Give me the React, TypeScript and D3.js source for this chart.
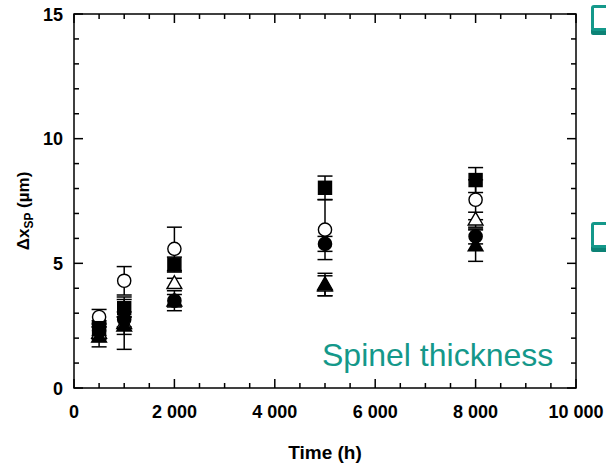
import React from "react";
import * as d3 from "d3";

const times = [500, 1000, 2000, 5000, 8000];
const openCircle = [2.85, 4.3, 5.58, 6.35, 7.55];
const openCircleErr = [0.3, 0.57, 0.87, 1.2, 0.8];
const openTriangle = [2.2, 2.6, 4.2, 4.1, 6.75];
const openTriangleErr = [0.25, 1.05, 0.2, 0.4, 0.3];
const filledSquare = [2.4, 3.2, 4.95, 8.03, 8.34];
const filledSquareErr = [0.3, 0.35, 0.3, 0.47, 0.5];
const filledCircle = [2.3, 2.75, 3.5, 5.78, 6.08];
const filledCircleErr = [0.3, 0.3, 0.4, 0.3, 0.3];
const filledTriangle = [2.05, 2.5, 3.5, 4.15, 5.71];
const filledTriangleErr = [0.4, 0.35, 0.25, 0.45, 0.63];

const xTicks = [0, 2000, 4000, 6000, 8000, 10000];
const xTickLabels = ["0", "2 000", "4 000", "6 000", "8 000", "10 000"];
const yTicks = [0, 5, 10, 15];

const series = [
  { name: "openCircle", values: openCircle, err: openCircleErr, shape: "circle", filled: false },
  { name: "openTriangle", values: openTriangle, err: openTriangleErr, shape: "triangle", filled: false },
  { name: "filledSquare", values: filledSquare, err: filledSquareErr, shape: "square", filled: true },
  { name: "filledCircle", values: filledCircle, err: filledCircleErr, shape: "circle", filled: true },
  { name: "filledTriangle", values: filledTriangle, err: filledTriangleErr, shape: "triangle", filled: true },
];

const TEAL = "#14988a";
const TEAL_DARK = "#0c8275";
const FONT = "Liberation Sans, Arial, sans-serif";

export default function App() {
  const W = 606, H = 466;
  const x = d3.scaleLinear().domain([0, 10000]).range([74, 576]);
  const y = d3.scaleLinear().domain([0, 15]).range([388, 14]);
  const xMinor = d3.range(0, 10001, 500);
  const yMinor = d3.range(0, 15.01, 1);

  const marker = (shape: string, filled: boolean, cx: number, cy: number, key: string) => {
    const fill = filled ? "#000" : "#fff";
    const sw = 1.4;
    if (shape === "circle") return <circle key={key} cx={cx} cy={cy} r={6.6} fill={fill} stroke="#000" strokeWidth={sw} />;
    if (shape === "square") return <rect key={key} x={cx - 6.5} y={cy - 6.5} width={13} height={13} fill={fill} stroke="#000" strokeWidth={sw} />;
    const sym = d3.symbol().type(d3.symbolTriangle).size(95)();
    return <path key={key} d={sym || ""} transform={`translate(${cx},${cy + 1})`} fill={fill} stroke="#000" strokeWidth={sw} />;
  };

  return (
    <svg width={W} height={H} style={{ position: "absolute", left: 0, top: 0, background: "#fff" }}>
      <rect x={0} y={0} width={W} height={H} fill="#fff" />
      {/* teal checkbox icons */}
      {[5, 222].map((ty, i) => (
        <g key={"cb" + i}>
          <rect x={591} y={ty + 23} width={40} height={7} rx={2} fill={TEAL_DARK} />
          <rect x={592.5} y={ty + 1.5} width={40} height={23} rx={1.5} fill="#fff" stroke={TEAL} strokeWidth={3} />
        </g>
      ))}
      {/* frame */}
      <rect x={x(0)} y={y(15)} width={x(10000) - x(0)} height={y(0) - y(15)} fill="none" stroke="#000" strokeWidth={1.5} />
      {xMinor.map((v) => {
        const major = v % 2000 === 0;
        const len = major ? 9 : 5;
        return (
          <g key={"xt" + v}>
            <line x1={x(v)} x2={x(v)} y1={y(0)} y2={y(0) - len} stroke="#000" strokeWidth={1.5} />
            <line x1={x(v)} x2={x(v)} y1={y(15)} y2={y(15) + len} stroke="#000" strokeWidth={1.5} />
          </g>
        );
      })}
      {yMinor.map((v) => {
        const major = v % 5 === 0;
        const len = major ? 9 : 5;
        return (
          <g key={"yt" + v}>
            <line x1={x(0)} x2={x(0) + len} y1={y(v)} y2={y(v)} stroke="#000" strokeWidth={1.5} />
            <line x1={x(10000)} x2={x(10000) - len} y1={y(v)} y2={y(v)} stroke="#000" strokeWidth={1.5} />
          </g>
        );
      })}
      {xTicks.map((v, i) => (
        <text key={"xl" + v} x={x(v)} y={418} textAnchor="middle" fontFamily={FONT} fontWeight="bold" fontSize={18}>
          {xTickLabels[i]}
        </text>
      ))}
      {yTicks.map((v) => (
        <text key={"yl" + v} x={63} y={y(v) + 6.5} textAnchor="end" fontFamily={FONT} fontWeight="bold" fontSize={18}>
          {v}
        </text>
      ))}
      <text x={x(5000)} y={459} textAnchor="middle" fontFamily={FONT} fontWeight="bold" fontSize={19}>
        Time (h)
      </text>
      <text transform={`translate(29,${y(7.1)}) rotate(-90)`} textAnchor="middle" fontFamily={FONT} fontWeight="bold" fontSize={17}>
        Δx<tspan fontSize={12} dy={4}>SP</tspan><tspan dy={-4}> (µm)</tspan>
      </text>
      {series.map((s) =>
        times.map((t, i) => {
          const cx = x(t);
          const lo = y(s.values[i] - s.err[i]);
          const hi = y(s.values[i] + s.err[i]);
          return (
            <g key={"e" + s.name + i}>
              <line x1={cx} x2={cx} y1={lo} y2={hi} stroke="#000" strokeWidth={1.5} />
              <line x1={cx - 7.5} x2={cx + 7.5} y1={lo} y2={lo} stroke="#000" strokeWidth={1.5} />
              <line x1={cx - 7.5} x2={cx + 7.5} y1={hi} y2={hi} stroke="#000" strokeWidth={1.5} />
            </g>
          );
        })
      )}
      {series.map((s) =>
        times.map((t, i) => marker(s.shape, s.filled, x(t), y(s.values[i]), "m" + s.name + i))
      )}
      <text x={322} y={366} fontFamily={FONT} fontSize={32} fill={TEAL}>
        Spinel thickness
      </text>
    </svg>
  );
}
